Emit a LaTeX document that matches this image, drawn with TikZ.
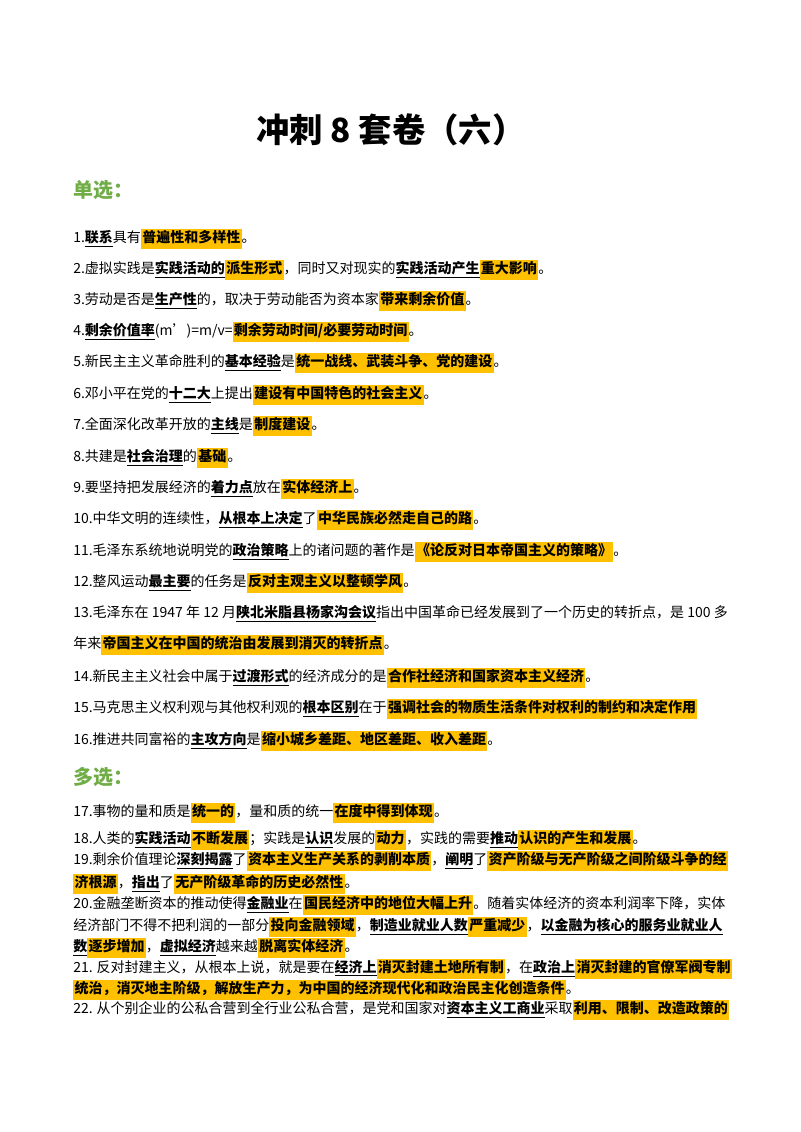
\documentclass[tikz,border=0pt]{standalone}
\usepackage{fontspec}
\setmainfont{Noto Sans CJK SC}
\usepackage{xcolor}
\definecolor{hlc}{HTML}{FFC000}
\definecolor{grn}{HTML}{70AD47}
\XeTeXlinebreaklocale "zh"
\XeTeXlinebreakskip=0pt plus 2pt
\newcommand{\myhl}[1]{{\setlength{\fboxsep}{1pt}\bfseries\colorbox{hlc}{\strut #1}}}
\newcommand{\myul}[1]{{\bfseries\underline{#1}}}
\newcommand{\fl}[1]{\makebox[491pt][s]{#1}}
\tikzset{ln/.style={anchor=west,inner sep=0pt,font=\fontsize{10.5pt}{12pt}\selectfont},
 head/.style={anchor=west,inner sep=0pt,text=grn,font=\fontsize{15pt}{18pt}\selectfont\bfseries}}
\begin{document}
\begin{tikzpicture}[x=0.75pt,y=-0.75pt]
\useasboundingbox (0,0) rectangle (800,1132);
\node[font=\fontsize{25pt}{30pt}\selectfont\bfseries,inner sep=0pt] (title) at (391,130) {冲刺 8 套卷（六）};
\node[head] (h1) at (73,190) {单选：};
\node[ln] (l1) at (73,239) {1.\myul{联系}具有\myhl{普遍性和多样性}。};
\node[ln] (l2) at (73,270) {2.虚拟实践是\myul{实践活动的}\myhl{派生形式}，同时又对现实的\myul{实践活动产生}\myhl{重大影响}。};
\node[ln] (l3) at (73,301) {3.劳动是否是\myul{生产性}的，取决于劳动能否为资本家\myhl{带来剩余价值}。};
\node[ln] (l4) at (73,332) {4.\myul{剩余价值率}(m')=m/v=\myhl{剩余劳动时间/必要劳动时间}。};
\node[ln] (l5) at (73,363) {5.新民主主义革命胜利的\myul{基本经验}是\myhl{统一战线、武装斗争、党的建设}。};
\node[ln] (l6) at (73,395) {6.邓小平在党的\myul{十二大}上提出\myhl{建设有中国特色的社会主义}。};
\node[ln] (l7) at (73,426) {7.全面深化改革开放的\myul{主线}是\myhl{制度建设}。};
\node[ln] (l8) at (73,458) {8.共建是\myul{社会治理}的\myhl{基础}。};
\node[ln] (l9) at (73,489) {9.要坚持把发展经济的\myul{着力点}放在\myhl{实体经济上}。};
\node[ln] (l10) at (73,520) {10.中华文明的连续性，\myul{从根本上决定}了\myhl{中华民族必然走自己的路}。};
\node[ln] (l11) at (73,552) {11.毛泽东系统地说明党的\myul{政治策略}上的诸问题的著作是\myhl{《论反对日本帝国主义的策略》}。};
\node[ln] (l12) at (73,583) {12.整风运动\myul{最主要}的任务是\myhl{反对主观主义以整顿学风}。};
\node[ln] (l13) at (73,614) {\fl{13.毛泽东在 1947 年 12 月\myul{陕北米脂县杨家沟会议}指出中国革命已经发展到了一个历史的转折点，是 100 多}};
\node[ln] (l13b) at (73,645) {年来\myhl{帝国主义在中国的统治由发展到消灭的转折点}。};
\node[ln] (l14) at (73,678) {14.新民主主义社会中属于\myul{过渡形式}的经济成分的是\myhl{合作社经济和国家资本主义经济}。};
\node[ln] (l15) at (73,709) {15.马克思主义权利观与其他权利观的\myul{根本区别}在于\myhl{强调社会的物质生活条件对权利的制约和决定作用}};
\node[ln] (l16) at (73,741) {16.推进共同富裕的\myul{主攻方向}是\myhl{缩小城乡差距、地区差距、收入差距}。};
\node[head] (h2) at (73,777) {多选：};
\node[ln] (l17) at (73,813) {17.事物的量和质是\myhl{统一的}，量和质的统一\myhl{在度中得到体现}。};
\node[ln] (l18) at (73,840) {18.人类的\myul{实践活动}\myhl{不断发展}；实践是\myul{认识}发展的\myhl{动力}，实践的需要\myul{推动}\myhl{认识的产生和发展}。};
\node[ln] (l19) at (73,861) {\fl{19.剩余价值理论\myul{深刻揭露}了\myhl{资本主义生产关系的剥削本质}，\myul{阐明}了\myhl{资产阶级与无产阶级之间阶级斗争的经}}};
\node[ln] (l19b) at (73,884) {\myhl{济根源}，\myul{指出}了\myhl{无产阶级革命的历史必然性}。};
\node[ln] (l20) at (73,905) {\fl{20.金融垄断资本的推动使得\myul{金融业}在\myhl{国民经济中的地位大幅上升}。随着实体经济的资本利润率下降，实体}};
\node[ln] (l20b) at (73,927) {\fl{经济部门不得不把利润的一部分\myhl{投向金融领域}，\myul{制造业就业人数}\myhl{严重减少}，\myul{以金融为核心的服务业就业人}}};
\node[ln] (l20c) at (73,948) {\myul{数}\myhl{逐步增加}，\myul{虚拟经济}越来越\myhl{脱离实体经济}。};
\node[ln] (l21) at (73,969) {\fl{21. 反对封建主义，从根本上说，就是要在\myul{经济上}\myhl{消灭封建土地所有制}，在\myul{政治上}\myhl{消灭封建的官僚军阀专制}}};
\node[ln] (l21b) at (73,990) {\myhl{统治，消灭地主阶级，解放生产力，为中国的经济现代化和政治民主化创造条件}。};
\node[ln] (l22) at (73,1010) {\fl{22. 从个别企业的公私合营到全行业公私合营，是党和国家对\myul{资本主义工商业}采取\myhl{利用、限制、改造政策的}}};
\end{tikzpicture}
\end{document}
